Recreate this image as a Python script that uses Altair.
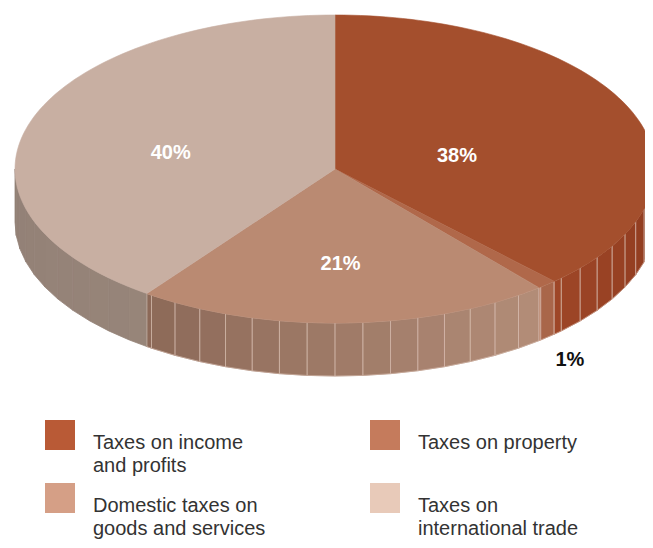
import altair as alt
import pandas as pd

# ---- data ----
categories = ["Taxes on income and profits", "Taxes on property",
              "Domestic taxes on goods and services", "Taxes on international trade"]
legend_labels = ["Taxes on income|and profits", "Taxes on property",
                 "Domestic taxes on|goods and services", "Taxes on|international trade"]
values = [38, 1, 21, 40]

# ---- styles ----
top_colors = ["#A44F2D", "#B0684A", "#BA8A72", "#C8AFA2"]
wall_start = ["#8C391D", "#A9664A", "#B38D78", "#978579"]
wall_end = ["#9E4627", "#A9664A", "#8C6958", "#928076"]
wall_line_opacity = [0.9, 0.9, 0.9, 0.0]
legend_colors = ["#B95A36", "#C57B5C", "#D59F86", "#E8CAB9"]
label_colors = ["#FFFFFF", "#111111", "#FFFFFF", "#FFFFFF"]
label_radius = [0.41, 1.11, 0.55, 0.54]
label_outside = [0, 1, 0, 0]

# ---- layout constants (pixels, page coordinates) ----
W, H = 637, 532
CX, CY, RX, RY, DEPTH = 335, 169, 320, 154, 53
N = 90          # arc steps per slice on the top face
NF = 72         # facets around the side wall
VOFF = 10
LEG_X0, LEG_DX, LEG_Y0, LEG_DY = 60, 325, 435, 63
LEG_LH = 23

df = pd.DataFrame({
    "category": categories,
    "legend_label": legend_labels,
    "value": values,
    "order": list(range(len(values))),
    "top_color": top_colors,
    "wall_a": wall_start,
    "wall_b": wall_end,
    "wall_lo": wall_line_opacity,
    "legend_color": legend_colors,
    "label_color": label_colors,
    "lr": label_radius,
    "lo": label_outside,
})

xs = alt.Scale(domain=[8, 8 + W], nice=False, zero=False)
ys = alt.Scale(domain=[8, 8 + H], reverse=True, nice=False, zero=False)


def pie(ch):
    return ch.transform_window(
        cum="sum(value)", sort=[alt.SortField("order", order="ascending")], frame=[None, 0]
    ).transform_joinaggregate(total="sum(value)").transform_calculate(
        a0="2*PI*(datum.cum-datum.value)/datum.total",
        a1="2*PI*datum.cum/datum.total",
    )


base = alt.Chart(df)

wall = pie(base).transform_calculate(
    w0="max(datum.a0, PI/2)", w1="min(datum.a1, 3*PI/2)"
).transform_filter("datum.w1 > datum.w0").transform_calculate(
    j=f"sequence(0, {NF})"
).transform_flatten(["j"]).transform_calculate(
    f0=f"max(datum.w0, datum.j*2*PI/{NF})",
    f1=f"min(datum.w1, (datum.j+1)*2*PI/{NF})",
).transform_filter("datum.f1 > datum.f0").transform_calculate(
    t="((datum.f0+datum.f1)/2 - datum.w0)/(datum.w1 - datum.w0)",
    shade=("'rgb(' + round(rgb(datum.wall_a).r + (rgb(datum.wall_b).r - rgb(datum.wall_a).r)*datum.t) + ','"
           " + round(rgb(datum.wall_a).g + (rgb(datum.wall_b).g - rgb(datum.wall_a).g)*datum.t) + ','"
           " + round(rgb(datum.wall_a).b + (rgb(datum.wall_b).b - rgb(datum.wall_a).b)*datum.t) + ')'"),
    fid="datum.category + '-' + datum.j",
    c="[0,1,2,3]",
).transform_flatten(["c"]).transform_calculate(
    ang="(datum.c==0 || datum.c==3) ? datum.f0 : datum.f1",
).transform_calculate(
    px=f"{CX} + {RX}*sin(datum.ang)",
    py=f"{CY} - {RY}*cos(datum.ang) + (datum.c >= 2 ? {DEPTH} : 0)",
)

# wall fill (stroked in its own colour to hide seams), then the light facet lines
wall_fill = wall.mark_line(
    filled=True, interpolate="linear-closed", strokeWidth=0.8
).encode(
    x=alt.X("px:Q", scale=xs, axis=None),
    y=alt.Y("py:Q", scale=ys, axis=None),
    order="c:Q",
    detail="fid:N",
    fill=alt.Fill("shade:N", scale=None),
    stroke=alt.Stroke("shade:N", scale=None),
)

wall_lines = wall.mark_line(
    interpolate="linear-closed", stroke="#D9C0B3", strokeWidth=0.6
).encode(
    x=alt.X("px:Q", scale=xs, axis=None),
    y=alt.Y("py:Q", scale=ys, axis=None),
    order="c:Q",
    detail="fid:N",
    strokeOpacity=alt.StrokeOpacity("wall_lo:Q", scale=None),
)

top = pie(base).transform_calculate(
    k=f"sequence(0, {N + 2})"
).transform_flatten(["k"]).transform_calculate(
    a=f"datum.a0 + (datum.a1 - datum.a0)*(datum.k - 1)/{N}",
).transform_calculate(
    px=f"datum.k == 0 ? {CX} : {CX} + {RX}*sin(datum.a)",
    py=f"datum.k == 0 ? {CY} : {CY} - {RY}*cos(datum.a)",
).mark_line(
    filled=True, interpolate="linear-closed", strokeWidth=0.6
).encode(
    x=alt.X("px:Q", scale=xs, axis=None),
    y=alt.Y("py:Q", scale=ys, axis=None),
    order="k:Q",
    detail="category:N",
    fill=alt.Fill("top_color:N", scale=None),
    stroke=alt.Stroke("top_color:N", scale=None),
)

labels = pie(base).transform_calculate(
    m="(datum.a0 + datum.a1)/2",
).transform_calculate(
    lx=f"{CX} + datum.lr*{RX}*sin(datum.m)",
    ly=f"{CY} - datum.lr*{RY}*cos(datum.m) + datum.lo*{DEPTH} + {VOFF}",
    txt="datum.value + '%'",
).mark_text(
    font="Liberation Sans", fontSize=20, fontWeight="bold", align="center", baseline="middle"
).encode(
    x=alt.X("lx:Q", scale=xs, axis=None),
    y=alt.Y("ly:Q", scale=ys, axis=None),
    text="txt:N",
    fill=alt.Fill("label_color:N", scale=None),
)

leg = base.transform_calculate(
    col="datum.order % 2",
    row="floor(datum.order / 2)",
).transform_calculate(
    sx=f"{LEG_X0} + datum.col*{LEG_DX}",
    sy=f"{LEG_Y0} + datum.row*{LEG_DY}",
)

leg_sw = leg.mark_square(size=900, opacity=1).encode(
    x=alt.X("sx:Q", scale=xs, axis=None),
    y=alt.Y("sy:Q", scale=ys, axis=None),
    fill=alt.Fill("legend_color:N", scale=None),
)

leg_txt = leg.transform_calculate(
    tx="datum.sx + 33",
    ty="datum.sy + 14",
).mark_text(
    font="Liberation Sans", fontSize=20, color="#333333", align="left",
    baseline="alphabetic", lineBreak="|", lineHeight=LEG_LH,
).encode(
    x=alt.X("tx:Q", scale=xs, axis=None),
    y=alt.Y("ty:Q", scale=ys, axis=None),
    text="legend_label:N",
)

chart = alt.layer(wall_fill, wall_lines, top, labels, leg_sw, leg_txt).properties(
    width=W, height=H, autosize=alt.AutoSizeParams(type="none"), padding=0,
    background="white",
).configure_view(stroke=None)

chart.save("out.html", embed_options={"renderer": "svg", "actions": False})
